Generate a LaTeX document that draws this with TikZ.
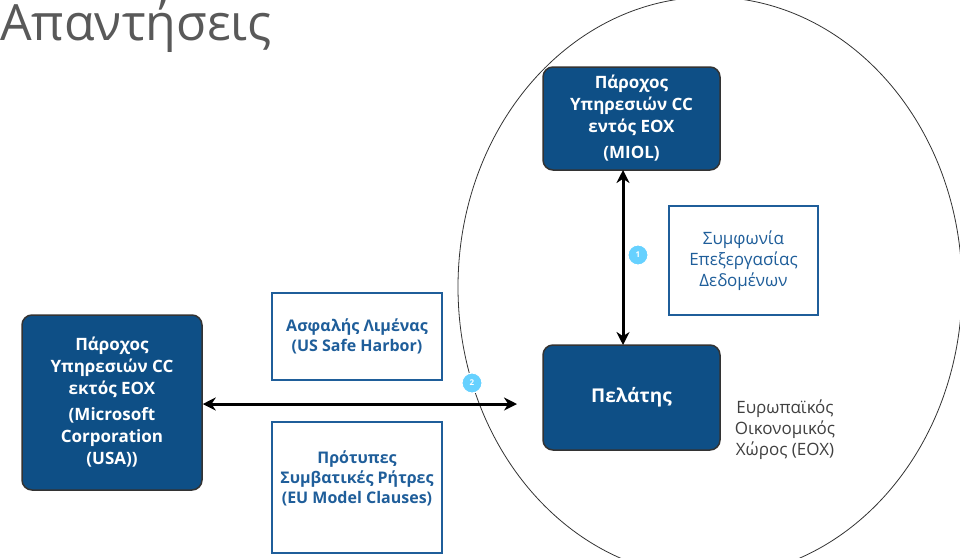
\documentclass[tikz,border=0pt]{standalone}
\usepackage{fontspec}
\setmainfont{Open Sans}
\newfontfamily\lightfont{Open Sans Light}
\usetikzlibrary{arrows.meta}
\definecolor{dblue}{HTML}{0E4F86}
\definecolor{lblue}{HTML}{1F5E9A}
\begin{document}
\begin{tikzpicture}[x=1pt,y=-1pt,
  dbox/.style={draw=black!80,line width=1.5pt,fill=dblue,rounded corners=10pt,text=white,font=\bfseries\fontsize{17}{22}\selectfont,align=center,inner sep=0pt},
  wbox/.style={draw=lblue,line width=2pt,fill=white,text=lblue,font=\fontsize{17}{21}\selectfont,align=center,inner sep=0pt},
  wtext/.style={text=lblue,font=\bfseries\fontsize{16}{20}\selectfont,align=center},
  badge/.style={circle,draw=white,line width=1pt,fill=blue!30!cyan!60,text=white,font=\bfseries\footnotesize,minimum size=20pt,inner sep=0pt},
  arr/.style={line width=3pt,{Stealth[length=13pt,width=13pt]}-{Stealth[length=13pt,width=13pt]}}]
\useasboundingbox (0,0) rectangle (960,557);
\node[anchor=north west,text=black!65,font=\fontsize{50}{56}\selectfont,inner sep=0pt] (title) at (0,0) {Απαντήσεις};
\draw[black!80,line width=0.8pt] (710,287) ellipse (252pt and 290pt);
\node[dbox,minimum width=177pt,minimum height=103pt] (miol) at (631.5,118.5) {Πάροχος\\Υπηρεσιών CC\\εντός ΕΟΧ\\[4pt](MIOL)};
\node[dbox,minimum width=177pt,minimum height=105pt] (client) at (631.5,397.5) {};
\node[text=white,font=\bfseries\fontsize{19}{22}\selectfont] (clt) at (631.5,397) {Πελάτης};
\node[dbox,minimum width=180pt,minimum height=175pt] (usa) at (112,402.5) {Πάροχος\\Υπηρεσιών CC\\εκτός ΕΟΧ\\[4pt](Microsoft\\Corporation\\(USA))};
\node[wbox,minimum width=149pt,minimum height=109pt] (dpa) at (743.5,260.5) {Συμφωνία\\Επεξεργασίας\\Δεδομένων};
\node[wbox,minimum width=170pt,minimum height=87pt] (sh) at (357,336.5) {};
\node[wtext] (sht) at (357,336) {Ασφαλής Λιμένας\\(US Safe Harbor)};
\node[wbox,minimum width=170pt,minimum height=131pt] (mc) at (357,487.5) {};
\node[wtext] (mct) at (357,478) {Πρότυπες\\Συμβατικές Ρήτρες\\(EU Model Clauses)};
\coordinate (hend) at (517,404);
\coordinate (vtop) at (623,170);
\coordinate (vbot) at (623,345);
\draw[arr] (vtop) -- (vbot);
\draw[arr] (usa.east |- hend) -- (hend);
\node[badge] (b1) at (638,255) {1};
\node[badge] (b2) at (472,383) {2};
\node[text=black!75,align=center,font=\fontsize{17}{21}\selectfont] (eea) at (785,430) {Ευρωπαϊκός\\Οικονομικός\\Χώρος (ΕΟΧ)};
\end{tikzpicture}
\end{document}
